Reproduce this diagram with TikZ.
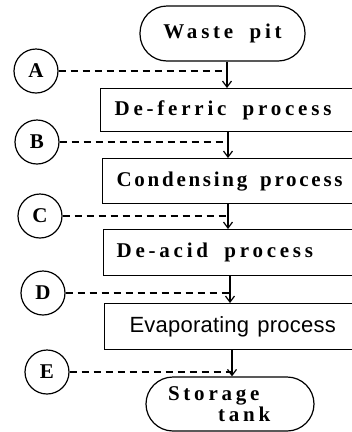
\documentclass[tikz,border=0pt]{standalone}
\usepackage{fontspec}
\setmainfont{Liberation Serif}
\newfontfamily\spacedrm[LetterSpace=18,WordSpace=1.8]{Liberation Serif}
\newfontfamily\tightrm[LetterSpace=13,WordSpace=1.6]{Liberation Serif}
\newfontfamily\evapsans[LetterSpace=1,WordSpace=1.3]{Liberation Sans}
\usetikzlibrary{arrows.meta}
\begin{document}
\begin{tikzpicture}[x=1pt,y=-1pt,line width=1.2pt,
  lbl/.style={font=\spacedrm\bfseries\fontsize{21}{21}\selectfont},
  term/.style={lbl,draw,rectangle,rounded corners=27pt,minimum width=165pt,minimum height=55pt,inner sep=0pt},
  proc/.style={lbl,draw,rectangle,anchor=north west,text width=254pt,align=flush left,inner ysep=0pt},
  tag/.style={draw,circle,minimum size=44pt,inner sep=0pt,font=\rmfamily\bfseries\fontsize{21}{21}\selectfont},
  feed/.style={dash pattern=on 7pt off 5pt},
  flow/.style={-{Straight Barb[length=6pt,width=9pt]}}]
\useasboundingbox (0,0) rectangle (352,432);
\clip (0,0) rectangle (352,432);
\node[term] (waste) at (222.5,33.5) {Waste pit};
\node[proc,minimum height=43pt,inner xsep=14pt] (deferric) at (100,88) {De-ferric process};
\node[proc,minimum height=45pt,inner xsep=14pt,font=\tightrm\bfseries\fontsize{21}{21}\selectfont] (cond) at (102,158) {Condensing process};
\node[proc,minimum height=46pt,inner xsep=13pt] (deacid) at (103,229) {De-acid process};
\node[proc,minimum height=46pt,inner xsep=25pt,font=\evapsans\fontsize{22}{22}\selectfont] (evap) at (104,303) {Evaporating process};
\node[term,minimum width=168pt,minimum height=54pt,text width=124pt,inner xsep=22pt,align=flush left] (tank) at (230,404) {Storage\\\hspace*{50pt}tank};
\node[tag] (A) at (36,71) {A};
\node[tag] (B) at (37,142) {B};
\node[tag] (C) at (40,216) {C};
\node[tag] (D) at (43,293) {D};
\node[tag] (E) at (47,372) {E};
\coordinate (jA) at (227,0);
\coordinate (jB) at (228,0);
\coordinate (jC) at (228,0);
\coordinate (jD) at (230,0);
\coordinate (jE) at (232,0);
\draw[feed] (A) -- (A -| jA);
\draw[feed] (B) -- (B -| jB);
\draw[feed] (C) -- (C -| jC);
\draw[feed] (D) -- (D -| jD);
\draw[feed] (E) -- (E -| jE);
\draw[flow] (waste.south -| jA) -- (deferric.north -| jA);
\draw[flow] (deferric.south -| jB) -- (cond.north -| jB);
\draw[flow] (cond.south -| jC) -- (deacid.north -| jC);
\draw[flow] (deacid.south -| jD) -- (evap.north -| jD);
\draw[flow] (evap.south -| jE) -- (tank.north -| jE);
\end{tikzpicture}
\end{document}
